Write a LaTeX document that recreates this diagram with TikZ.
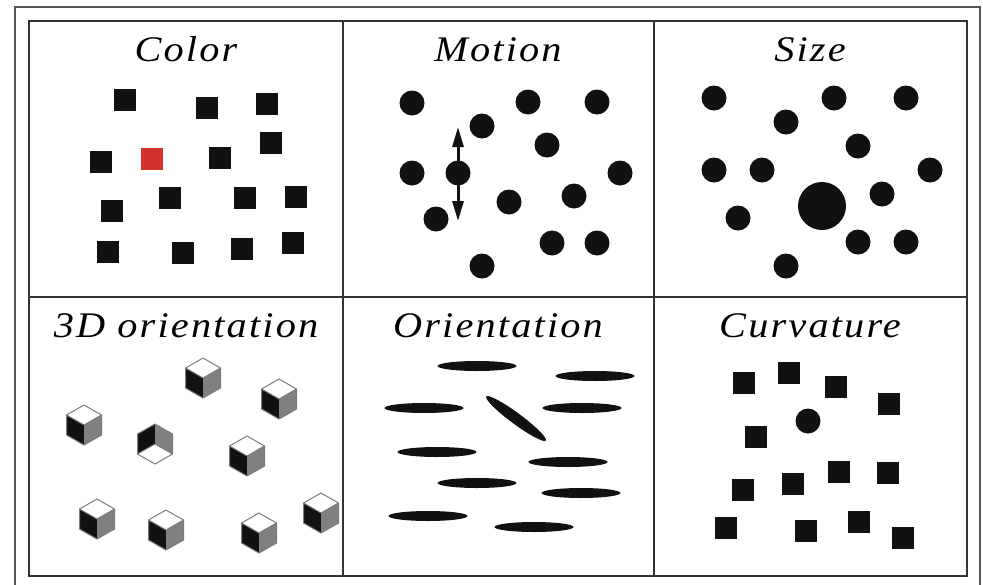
\documentclass[tikz,border=0pt]{standalone}
\usepackage{fontspec}
\newfontfamily\ttlfont[LetterSpace=6, FakeStretch=1.12]{Liberation Serif}
\usetikzlibrary{arrows.meta}
\definecolor{gridc}{HTML}{333333}
\definecolor{outerc}{HTML}{555555}
\definecolor{ink}{HTML}{111111}
\definecolor{redsq}{RGB}{212,50,46}
\definecolor{facegray}{HTML}{808080}
\definecolor{edgegray}{HTML}{7A7A7A}
\tikzset{
  ttl/.style={font=\ttlfont\itshape\fontsize{36}{40}\selectfont, anchor=base, inner sep=0pt},
  sq/.style={rectangle, fill=ink, minimum size=22pt, inner sep=0pt},
  dot/.style={circle, fill=ink, minimum size=25pt, inner sep=0pt},
  cube/.pic={
    \fill[white] (0,-20) -- (17.5,-10) -- (0,0) -- (-17.5,-10) -- cycle;
    \fill[ink] (-17.5,-10) -- (0,0) -- (0,20) -- (-17.5,10) -- cycle;
    \fill[facegray] (0,0) -- (17.5,-10) -- (17.5,10) -- (0,20) -- cycle;
    \draw[edgegray, line width=1pt, line join=round] (0,-20) -- (17.5,-10) -- (17.5,10) -- (0,20) -- (-17.5,10) -- (-17.5,-10) -- cycle (-17.5,-10) -- (0,0) -- (17.5,-10);
  },
  hollow/.pic={
    \fill[ink] (-17.5,-10) -- (0,-20) -- (0,0) -- (-17.5,10) -- cycle;
    \fill[facegray] (0,-20) -- (17.5,-10) -- (17.5,10) -- (0,0) -- cycle;
    \fill[white] (-17.5,10) -- (0,0) -- (17.5,10) -- (0,20) -- cycle;
    \draw[edgegray, line width=1pt, line join=round] (0,-20) -- (17.5,-10) -- (17.5,10) -- (0,20) -- (-17.5,10) -- (-17.5,-10) -- cycle (-17.5,10) -- (0,0) -- (17.5,10);
  },
  ell/.style={fill=ink}
}
\begin{document}
\begin{tikzpicture}[x=1pt,y=-1pt]
\useasboundingbox (0,0) rectangle (983,584);
\fill[white] (0,0) rectangle (983,584);
% outer frame
\draw[outerc, line width=1.5pt] (15,600) -- (15,7) -- (980,7) -- (980,600);
% grid
\draw[gridc, line width=2pt] (29,21) rectangle (967,576);
\draw[gridc, line width=2pt] (343,21) -- (343,576) (654,21) -- (654,576) (29,297) -- (967,297);
% titles
\node[ttl] (tColor) at (186,61) {Color};
\node[ttl] (tMotion) at (498,61) {Motion};
\node[ttl] (tSize) at (810,61) {Size};
\node[ttl] (t3D) at (186,337) {3D orientation};
\node[ttl] (tOri) at (498,337) {Orientation};
\node[ttl] (tCurv) at (810,337) {Curvature};
% Color cell
\foreach \x/\y [count=\i] in {125/100, 207/108, 267/104, 271/143, 101/162, 220/158, 170/198, 245/198, 296/197, 112/211, 108/252, 183/253, 242/249, 293/243}
  \node[sq] (col\i) at (\x,\y) {};
\node[sq, fill=redsq] (colred) at (152,159) {};
% Motion cell
\foreach \x/\y [count=\i] in {412/103, 482/126, 528/102, 597/102, 547/145, 412/173, 620/173, 509/202, 574/196, 436/219, 552/243, 597/243, 482/266}
  \node[dot] (mot\i) at (\x,\y) {};
\node[dot] (movdot) at (458,173) {};
\coordinate (arrtop) at (458,127);
\coordinate (arrbot) at (458,221);
\draw[ink, line width=3pt, {Triangle[width=11pt,length=20pt]}-{Triangle[width=11pt,length=20pt]}] (arrtop) -- (arrbot);
% Size cell
\foreach \x/\y [count=\i] in {714/98, 834/98, 906/98, 786/122, 858/146, 714/170, 762/170, 930/170, 882/194, 738/218, 858/242, 906/242, 786/266}
  \node[dot] (siz\i) at (\x,\y) {};
\node[dot, minimum size=48pt] (bigdot) at (822,206) {};
% 3D orientation cell
\foreach \x/\y in {203/378, 279/399, 84/425, 247/456, 97/519, 166/530, 259/533, 321/513}
  \pic at (\x,\y) {cube};
\pic at (155,444) {hollow};
% Orientation cell
\foreach \x/\y in {477/366, 595/376, 424/408, 582/408, 437/452, 568/462, 477/483, 581/493, 428/516, 534/527}
  \fill[ell] (\x,\y) ellipse [x radius=39.5, y radius=5];
\fill[ell, rotate around={-36.5:(516,418.5)}] (516,418.5) ellipse [x radius=37, y radius=5.5];
% Curvature cell
\foreach \x/\y [count=\i] in {744/383, 789/373, 836/387, 889/404, 756/437, 743/490, 793/484, 839/472, 888/473, 726/528, 806/531, 859/522, 903/538}
  \node[sq] (cur\i) at (\x,\y) {};
\node[dot] (curdot) at (808,421) {};
\end{tikzpicture}
\end{document}
